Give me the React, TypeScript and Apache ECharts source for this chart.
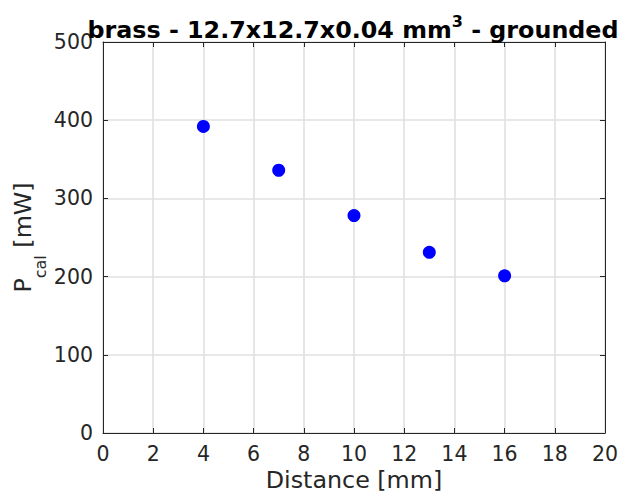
import React, { useEffect, useRef } from "react";
import * as echarts from "echarts";

const distances = [4, 7, 10, 13, 16];
const powers = [392, 336, 278, 231, 201];
const xTicks = { min: 0, max: 20, interval: 2 };
const yTicks = { min: 0, max: 500, interval: 100 };

const AX = "#262626";
const FONT = "DejaVu Sans";
const GRID = "#e0e0e0";

export default function App() {
  const ref = useRef<HTMLDivElement>(null);
  useEffect(() => {
    if (!ref.current) return;
    const chart = echarts.init(ref.current, null, { renderer: "svg" });
    const axisCommon = {
      axisLine: { show: true, onZero: false, lineStyle: { color: AX, width: 1 } },
      axisTick: { show: true, inside: true, length: 5, lineStyle: { color: AX } },
    };
    chart.setOption({
      animation: false,
      backgroundColor: "#ffffff",
      title: {
        text: "{b|brass - 12.7x12.7x0.04 mm}{s|3}{b| - grounded}",
        left: 348,
        textAlign: "center",
        top: 8,
        textStyle: {
          rich: {
            b: { fontFamily: FONT, fontWeight: "bold", fontSize: 23.8, color: "#000", lineHeight: 29, verticalAlign: "bottom" },
            s: { fontFamily: FONT, fontWeight: "bold", fontSize: 16, color: "#000", verticalAlign: "top", lineHeight: 16 },
          },
        },
      },
      grid: { left: 103, right: 15, top: 42, bottom: 63, containLabel: false, outerBoundsMode: "none" },
      xAxis: [
        {
          type: "value",
          ...xTicks,
          position: "bottom",
          ...axisCommon,
          axisLabel: { color: AX, fontFamily: FONT, fontSize: 20.5, margin: 10 },
          splitLine: { show: true, lineStyle: { color: GRID, width: 1.6 } },
          name: "Distance [mm]",
          nameLocation: "middle",
          nameGap: 35,
          nameMoveOverlap: false,
          nameTextStyle: { color: AX, fontFamily: FONT, fontSize: 23.8 },
        },
        {
          type: "value",
          ...xTicks,
          position: "top",
          ...axisCommon,
          axisLabel: { show: false },
          splitLine: { show: false },
        },
      ],
      yAxis: [
        {
          type: "value",
          ...yTicks,
          position: "left",
          ...axisCommon,
          axisLabel: { color: AX, fontFamily: FONT, fontSize: 20.5, margin: 10 },
          splitLine: { show: true, lineStyle: { color: GRID, width: 1.6 } },
          name: "{m|P}{s|cal}{m| [mW]}",
          nameLocation: "middle",
          nameRotate: 90,
          nameGap: 55,
          nameMoveOverlap: false,
          nameTextStyle: {
            rich: {
              m: { color: AX, fontFamily: FONT, fontSize: 23.8, lineHeight: 24, verticalAlign: "top" },
              s: { color: AX, fontFamily: FONT, fontSize: 16, lineHeight: 37, verticalAlign: "bottom" },
            },
          },
        },
        {
          type: "value",
          ...yTicks,
          position: "right",
          ...axisCommon,
          axisLabel: { show: false },
          splitLine: { show: false },
        },
      ],
      series: [
        {
          type: "scatter",
          data: distances.map((d, i) => [d, powers[i]]),
          symbol: "circle",
          symbolSize: 13,
          itemStyle: { color: "#0000ff", opacity: 1 },
        },
      ],
    });
    return () => chart.dispose();
  }, []);
  return (
    <div
      ref={ref}
      style={{ position: "fixed", left: 0, top: 0, width: 620, height: 496 }}
    />
  );
}
